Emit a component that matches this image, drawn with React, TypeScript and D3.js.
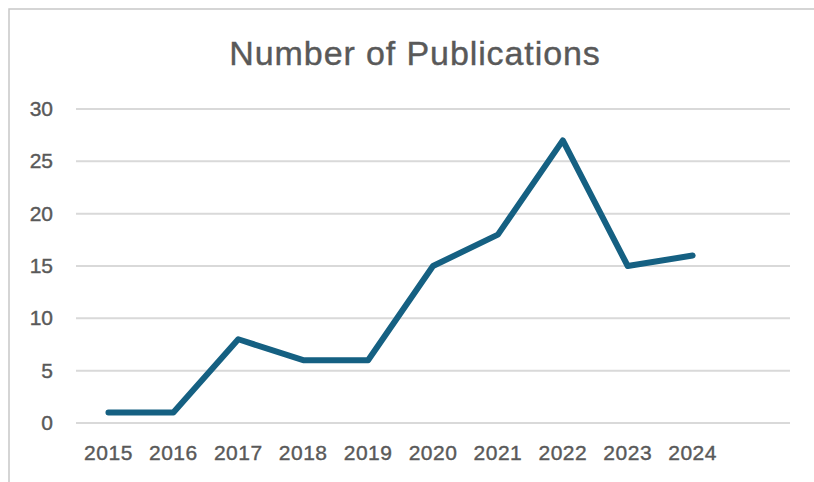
import React, { useRef, useEffect } from 'react'
import * as d3 from 'd3'

const years = ['2015', '2016', '2017', '2018', '2019', '2020', '2021', '2022', '2023', '2024']
const publications = [1, 1, 8, 6, 6, 15, 18, 27, 15, 16]
const yTicks = [0, 5, 10, 15, 20, 25, 30]

const W = 814
const H = 482

const App: React.FC = () => {
  const svgRef = useRef<SVGSVGElement>(null)

  useEffect(() => {
    if (!svgRef.current) return
    const svg = d3.select(svgRef.current)
    svg.selectAll('*').remove()

    const left = 76
    const right = 790
    const top = 109
    const bottom = 423

    // extra empty slot at the end, like Excel leaves
    const x = d3.scaleBand<string>()
      .domain([...years, ''])
      .range([left, right])

    const y = d3.scaleLinear().domain([0, 30]).range([bottom, top])

    const font = '"Liberation Sans", Arial, sans-serif'
    const textColor = '#595959'

    // chart frame
    svg.append('rect')
      .attr('x', 9).attr('y', 9)
      .attr('width', W + 20).attr('height', H + 20)
      .attr('fill', '#fff')
      .attr('stroke', '#c8c8c8')
      .attr('stroke-width', 1.5)

    svg.append('text')
      .attr('x', (227 + 603) / 2)
      .attr('y', 65)
      .attr('text-anchor', 'middle')
      .attr('font-family', font)
      .attr('font-size', 34)
      .attr('letter-spacing', 0.9)
      .attr('fill', textColor)
      .attr('stroke', textColor)
      .attr('stroke-width', 0.4)
      .text('Number of Publications')

    // gridlines
    svg.append('g')
      .selectAll('line')
      .data(yTicks)
      .enter().append('line')
      .attr('x1', left).attr('x2', right)
      .attr('y1', d => y(d)).attr('y2', d => y(d))
      .attr('stroke', '#d9d9d9')
      .attr('stroke-width', 2)

    // y labels
    svg.append('g')
      .selectAll('text')
      .data(yTicks)
      .enter().append('text')
      .attr('x', 53)
      .attr('y', d => y(d) + 7)
      .attr('text-anchor', 'end')
      .attr('font-family', font)
      .attr('font-size', 21)
      .attr('fill', textColor)
      .attr('stroke', textColor)
      .attr('stroke-width', 0.4)
      .text(d => d)

    // x labels
    svg.append('g')
      .selectAll('text')
      .data(years)
      .enter().append('text')
      .attr('x', d => x(d)! + x.bandwidth() / 2)
      .attr('y', 460)
      .attr('text-anchor', 'middle')
      .attr('font-family', font)
      .attr('font-size', 21)
      .attr('letter-spacing', 0.5)
      .attr('fill', textColor)
      .attr('stroke', textColor)
      .attr('stroke-width', 0.4)
      .text(d => d)

    const line = d3.line<number>()
      .x((_, i) => x(years[i])! + x.bandwidth() / 2)
      .y(d => y(d))

    svg.append('path')
      .datum(publications)
      .attr('d', line)
      .attr('fill', 'none')
      .attr('stroke', '#156082')
      .attr('stroke-width', 6)
      .attr('stroke-linejoin', 'round')
      .attr('stroke-linecap', 'round')
  }, [])

  return (
    <svg
      ref={svgRef}
      width={W}
      height={H}
      style={{ position: 'absolute', left: 0, top: 0, background: '#fff' }}
    />
  )
}

export default App
